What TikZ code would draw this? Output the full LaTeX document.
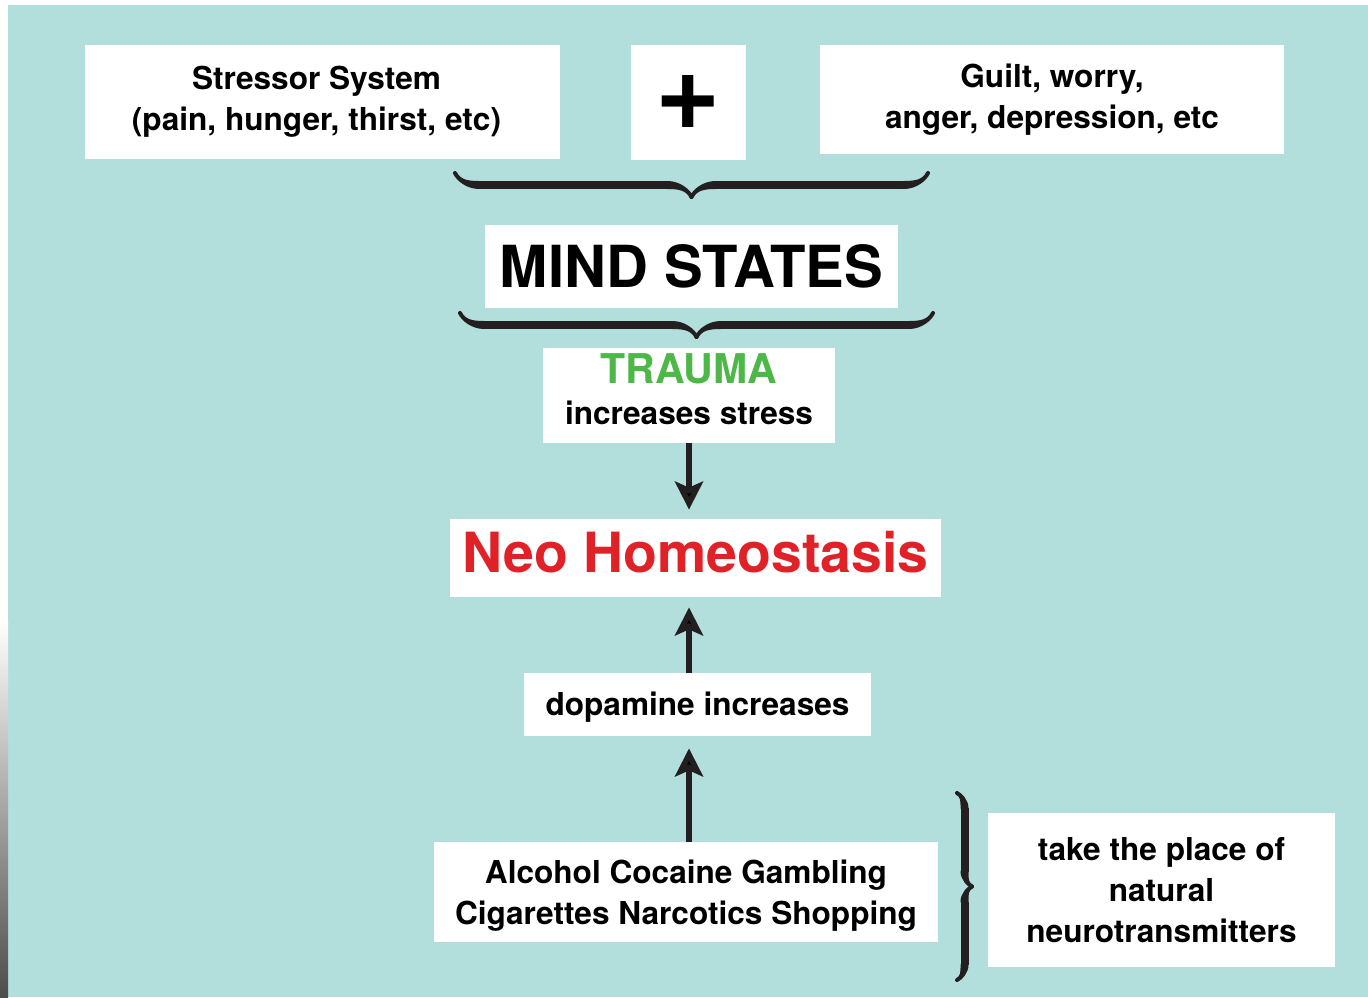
\documentclass[tikz,border=0pt]{standalone}
\usepackage{fontspec}
\setmainfont{TeX Gyre Heros}
\usetikzlibrary{arrows.meta,decorations.pathreplacing,calligraphy}
\definecolor{bgteal}{HTML}{B2DFDC}
\definecolor{trgreen}{HTML}{4DB848}
\definecolor{neored}{HTML}{E02228}
\definecolor{ink}{HTML}{231F20}
\begin{document}
\begin{tikzpicture}
[x=0.5pt,y=-0.5pt,%
  every node/.style={fill=white,inner sep=0pt,align=center,text=black,%
    font=\bfseries\fontsize{15.8}{20.5}\selectfont},%
  arr/.style={line width=3pt,draw=ink,-{Stealth[length=14pt,width=14pt,inset=3pt]}},%
  brc/.style={decorate,decoration={calligraphic brace,amplitude=#1},line width=4pt,pen colour={ink}}]
\fill[white] (0,0) rectangle (1368,997);
\fill[bgteal] (8,5) rectangle (1368,997);
\shade[top color=white,bottom color=black!70] (0,620) rectangle (8,997);
\node[minimum width=237.5pt,minimum height=57pt] (stress) at (322.5,102)
  {Stressor System\hspace*{6pt}\\(pain, hunger, thirst, etc)\hspace*{6pt}};
\node[minimum width=57.5pt,minimum height=57.5pt,font=\bfseries\fontsize{56}{56}\selectfont]
  (plus) at (688.5,102.5) {+};
\node[minimum width=232pt,minimum height=54.5pt] (guilt) at (1052,99.5)
  {Guilt, worry,\\anger, depression, etc};
\node[minimum width=206.5pt,minimum height=41.5pt,font=\bfseries\fontsize{29}{30}\selectfont]
  (mind) at (691.5,266.5) {MIND STATES};
\node[minimum width=146pt,minimum height=47.5pt] (trauma) at (689,395.5)
  {{\color{trgreen}\fontsize{20.5}{22}\selectfont TRAUMA}\\increases stress\rule[-6pt]{0pt}{6pt}};
\node[minimum width=245.5pt,minimum height=39pt,text=neored,font=\bfseries\fontsize{27.7}{30}\selectfont]
  (neo) at (695.5,558) {Neo Homeostasis\rule[-6pt]{0pt}{6pt}};
\node[minimum width=173.5pt,minimum height=31.5pt] (dopa) at (697.5,704.5)
  {\rule{0pt}{14.5pt}dopamine increases};
\node[minimum width=252pt,minimum height=50pt] (drugs) at (686,892)
  {\rule{0pt}{15.5pt}Alcohol Cocaine Gambling\\Cigarettes Narcotics Shopping};
\node[minimum width=173.5pt,minimum height=77pt] (place) at (1161.5,890)
  {take the place of\\natural\\neurotransmitters};
\draw[brc=12pt] (928,173) -- (455,173);
\draw[brc=12pt] (933,313) -- (460,313);
\draw[brc=7.5pt] (957,793) -- (957,980);
\draw[arr,shorten >=4.5pt] (trauma.south) -- (trauma.south |- neo.north);
\draw[arr,shorten >=5pt] (dopa.north -| trauma.south) -- (neo.south -| trauma.south);
\draw[arr,shorten >=6pt] (drugs.north -| trauma.south) -- (dopa.south -| trauma.south);
\end{tikzpicture}
\end{document}
